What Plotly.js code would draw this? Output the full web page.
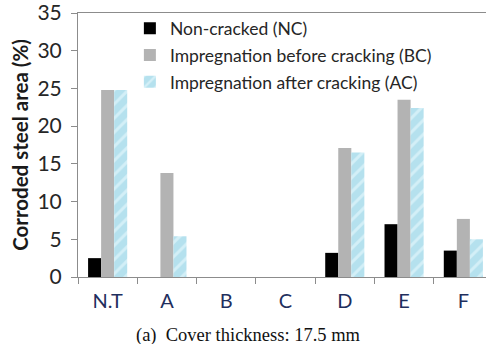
<!DOCTYPE html>
<html>
<head>
<meta charset="utf-8">
<script src="https://cdn.plot.ly/plotly-3.0.1.min.js"></script>
<style>
  html, body { margin: 0; padding: 0; overflow: hidden; background: #fff; }
  #chart { width: 500px; height: 344px; }
</style>
</head>
<body>
<div id="chart"></div>
<script>
// Corroded steel area per specimen, cover thickness 17.5 mm
const specimens = ['N.T', 'A', 'B', 'C', 'D', 'E', 'F'];
const nonCracked = [2.5, 0, 0, 0, 3.2, 7.0, 3.5];
const beforeCracking = [24.8, 13.8, 0, 0, 17.1, 23.5, 7.7];
const afterCracking = [24.8, 5.4, 0, 0, 16.5, 22.4, 5.0];

const seriesNames = [
  'Non-cracked (NC)',
  'Impregnation before cracking (BC)',
  'Impregnation after cracking (AC)'
];
const yTicks = [0, 5, 10, 15, 20, 25, 30, 35];

const traces = [
  {
    type: 'bar', name: seriesNames[0], x: specimens, y: nonCracked,
    legendgroup: 'nc',
    marker: { color: '#000000', line: { width: 0 } }
  },
  {
    type: 'bar', name: seriesNames[1], x: specimens, y: beforeCracking,
    legendgroup: 'bc',
    marker: { color: '#b3b3b3', line: { width: 0 } }
  },
  {
    type: 'bar', name: seriesNames[2], x: specimens, y: afterCracking,
    legendgroup: 'ac',
    marker: {
      color: '#bde6f2',
      line: { width: 0 },
      pattern: { shape: '/', fgcolor: '#d3eff7', bgcolor: '#b5e1ee', size: 10, solidity: 0.3 }
    }
  }
];

const layout = {
  width: 500,
  height: 344,
  margin: { l: 78, r: 7, t: 13, b: 67 },
  paper_bgcolor: '#ffffff',
  plot_bgcolor: '#ffffff',
  barmode: 'group',
  bargap: 0.34,
  bargroupgap: 0,
  font: { family: 'Lato, "Open Sans", sans-serif', color: '#262626' },
  xaxis: {
    type: 'category',
    range: [-0.5, 6.5],
    tickson: 'boundaries',
    ticks: 'outside',
    ticklen: 6,
    tickcolor: '#8c8c8c',
    showline: true,
    linecolor: '#8c8c8c',
    linewidth: 1,
    mirror: true,
    showgrid: false,
    zeroline: false,
    ticklabelstandoff: 6,
    tickfont: { size: 20, color: '#1f2f5e' }
  },
  yaxis: {
    range: [0, 35],
    tickvals: yTicks,
    ticktext: yTicks.map(String),
    ticks: 'outside',
    ticklen: 6,
    tickcolor: '#8c8c8c',
    showline: true,
    linecolor: '#8c8c8c',
    linewidth: 1,
    showgrid: false,
    zeroline: false,
    ticklabeloverflow: 'allow',
    ticklabelstandoff: 5,
    tickfont: { size: 21, color: '#262626' },
    title: {
      text: '<b>Corroded steel area (%)</b>',
      font: { size: 20.5, color: '#1a1a1a' },
      standoff: 3
    }
  },
  showlegend: true,
  legend: {
    x: 0.125, y: 1.01,
    xanchor: 'left', yanchor: 'top',
    xref: 'paper', yref: 'paper',
    bgcolor: 'rgba(0,0,0,0)',
    borderwidth: 0,
    traceorder: 'grouped',
    tracegroupgap: 1,
    font: { size: 17.5, color: '#262626' }
  },
  annotations: [
    {
      text: '(a)  Cover thickness: 17.5 mm',
      xref: 'paper', yref: 'paper',
      x: 0.41, y: -0.22,
      xanchor: 'center', yanchor: 'middle',
      showarrow: false,
      font: { family: '"Liberation Serif", "Times New Roman", serif', size: 18.5, color: '#111111' }
    }
  ]
};

Plotly.newPlot('chart', traces, layout, { displayModeBar: false, staticPlot: true });
</script>
</body>
</html>
